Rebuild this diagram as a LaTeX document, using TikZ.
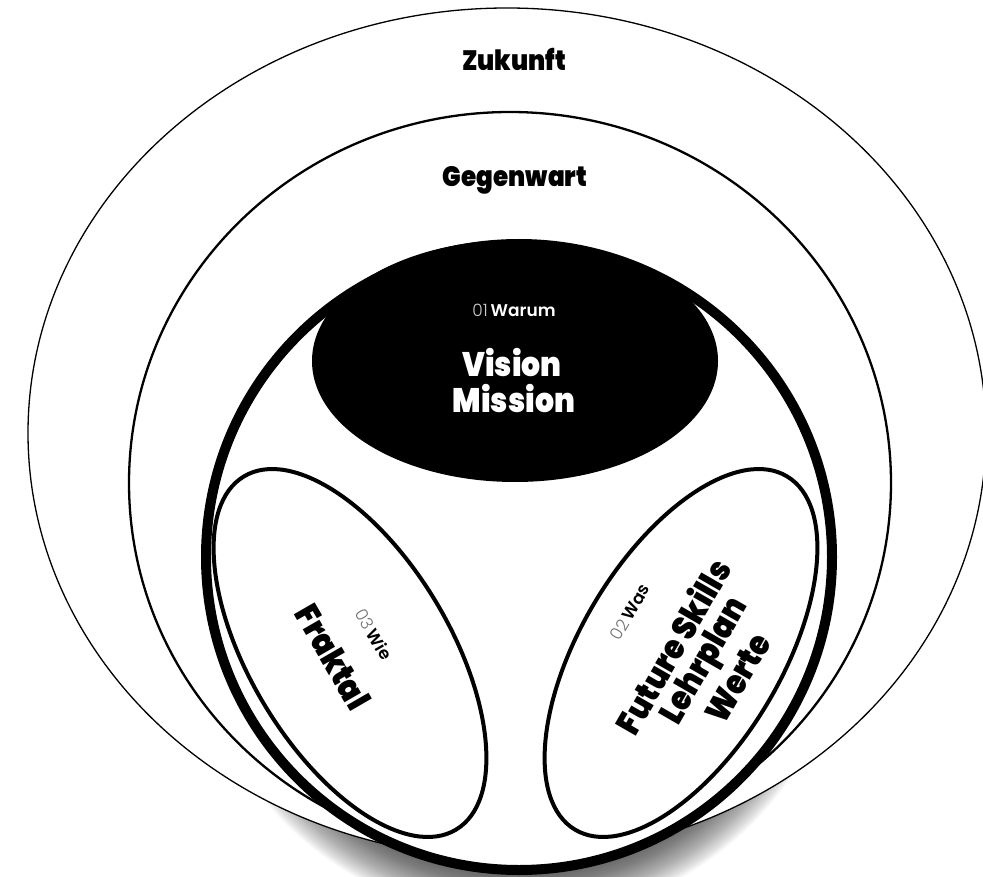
\documentclass[tikz,border=0pt]{standalone}
\usepackage{fontspec}
\setmainfont{Poppins}
\newfontfamily\heavyfont{Poppins Black}[FakeStretch=0.88]
\newfontfamily\medfont{Poppins SemiBold}
\newfontfamily\lightfont{Poppins Light}
\tikzset{
  ring/.style={draw=black, fill=white},
  bigtitle/.style={font=\heavyfont\fontsize{28}{30}\selectfont, text=black, inner sep=0pt},
  keytext/.style={font=\heavyfont\fontsize{34}{36}\selectfont, inner sep=0pt},
  smalltext/.style={font=\fontsize{17}{19}\selectfont, inner sep=0pt},
}
\begin{document}
\begin{tikzpicture}[x=1pt,y=-1pt]
\useasboundingbox (0,0) rectangle (983,877);
% soft shadow below the thick circle
\begin{scope}
  \clip (0,0) rectangle (983,877);
  \foreach \k in {0,...,44} {
    \fill[black, opacity=0.02] (519,602) ellipse [x radius={326-\k}, y radius={318-\k}];
  }
\end{scope}
% Zukunft
\draw[ring, line width=1.3pt] (507,433) ellipse [x radius=479, y radius=425];
% Gegenwart
\draw[ring, line width=2.3pt] (510,483) ellipse [x radius=381, y radius=371];
% thick circle
\draw[ring, line width=10pt] (519,557) circle (313);
% black ellipse
\fill[black] (515,361) ellipse [x radius=203, y radius=121];
% inner ellipses
\draw[ring, line width=4pt, rotate around={31:(350,653)}] (350,653) ellipse [x radius=100, y radius=206];
\draw[ring, line width=4pt, rotate around={-31:(681,653)}] (681,653) ellipse [x radius=100, y radius=206];
% texts
\node[bigtitle, anchor=base] (zukunft) at (514,71) {Zukunft};
\node[bigtitle, anchor=base] (gegenwart) at (515,187) {Gegenwart};
\node[smalltext, anchor=base, text=white] (warum) at (514,317) {{\lightfont\color{white!80!black}01}\,{\medfont Warum}};
\node[keytext, anchor=base, text=white] (vision) at (512,377) {Vision};
\node[keytext, anchor=base, text=white] (mission) at (514,412) {Mission};
\node[keytext, rotate=-60] (fraktal) at (333,657) {Fraktal};
\node[smalltext, rotate=-60] (wie) at (374,634) {{\lightfont\color{black!55}03}\,{\medfont Wie}};
\node[smalltext, rotate=60] (was) at (630,612) {{\lightfont\color{black!55}02}\,{\medfont Was}};
\node[keytext, rotate=60] (future) at (672,646) {Future Skills};
\node[keytext, rotate=60] (lehrplan) at (706,662) {Lehrplan};
\node[keytext, rotate=60] (werte) at (738,678) {Werte};
\end{tikzpicture}
\end{document}
